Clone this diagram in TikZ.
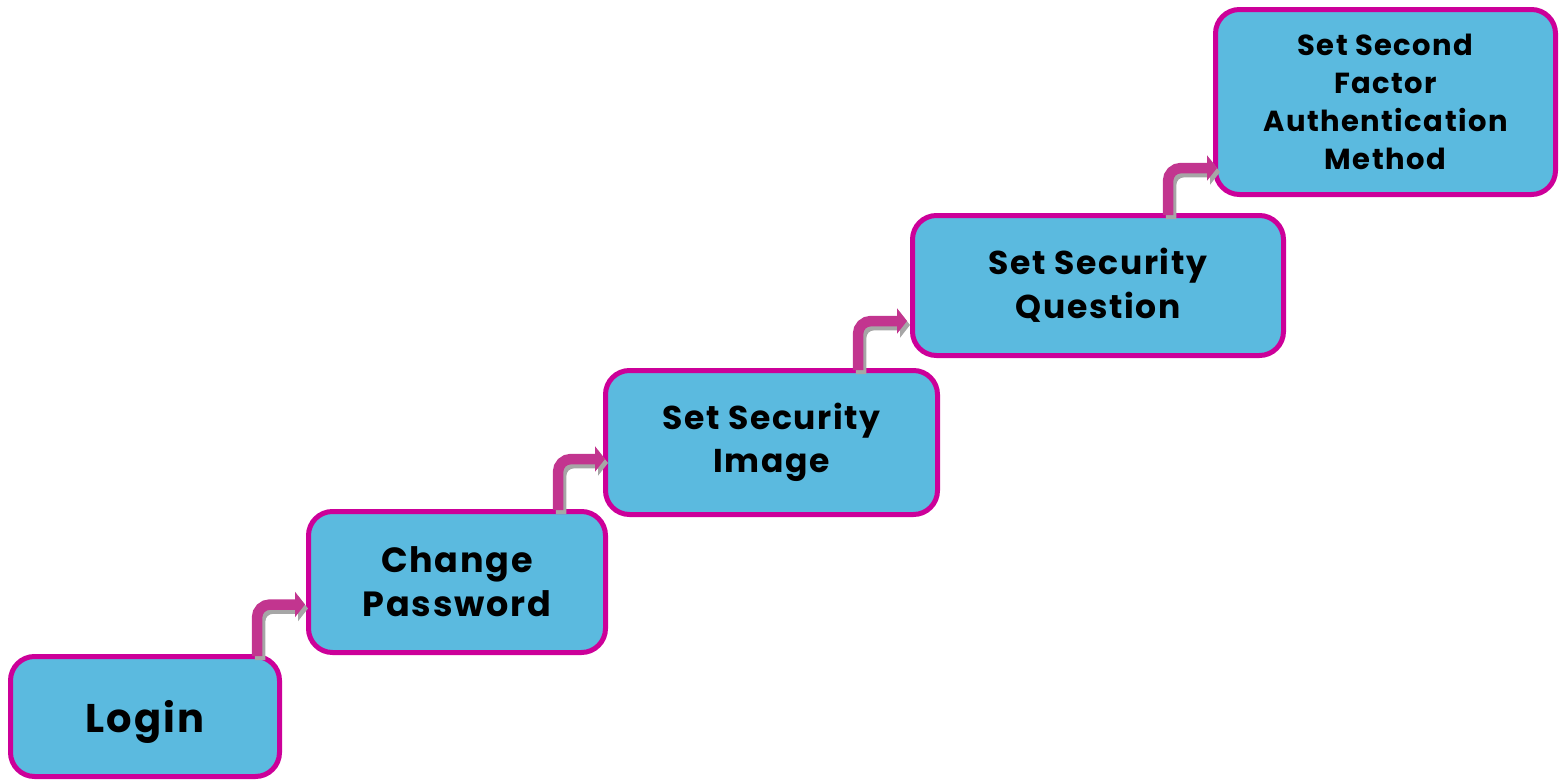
\documentclass[tikz,border=0pt]{standalone}
\usepackage{fontspec}
\setmainfont{Poppins}[LetterSpace=5]
\usetikzlibrary{arrows.meta}
\definecolor{boxfill}{HTML}{5BBADF}
\definecolor{boxline}{HTML}{CC0099}
\definecolor{arrowcol}{HTML}{C2358F}
\definecolor{shadowcol}{HTML}{A6A6A6}
\tikzset{
  stepbox/.style={draw=boxline, fill=boxfill, line width=5pt, rounded corners=24pt,
    align=center, font=\bfseries, text=black, inner sep=0pt},
  bent/.style={line width=10.5pt, rounded corners=13pt,
    -{Triangle[width=25pt,length=10pt]}},
}
\begin{document}
\begin{tikzpicture}[x=1pt,y=-1pt]
\useasboundingbox (0,0) rectangle (1559,782);
% boxes
\node[stepbox, minimum width=269pt, minimum height=120pt, text depth=-6pt,
  font=\fontsize{40}{46}\selectfont\bfseries] (b1) at (145,716.5) {Login};
\node[stepbox, minimum width=297pt, minimum height=141pt,
  font=\fontsize{35}{44}\selectfont\bfseries] (b2) at (457,582) {Change\\Password};
\node[stepbox, minimum width=332pt, minimum height=144pt,
  font=\fontsize{33}{43}\selectfont\bfseries] (b3) at (771.5,442.5) {Set Security\\Image};
\node[stepbox, minimum width=371pt, minimum height=140pt,
  font=\fontsize{33}{44}\selectfont\bfseries] (b4) at (1098,285.5) {Set Security\\Question};
\node[stepbox, minimum width=340pt, minimum height=185pt,
  font=\fontsize{29}{38}\selectfont\bfseries] (b5) at (1385.5,102) {Set Second\\Factor\\Authentication\\Method};
% arrow anchors
\coordinate (s1) at (257,656);  \coordinate (t1) at (305,604.5);
\coordinate (s2) at (558,510);  \coordinate (t2) at (605,459);
\coordinate (s3) at (858,370);  \coordinate (t3) at (907,321);
\coordinate (s4) at (1168,215); \coordinate (t4) at (1217,168);
% shadows
\begin{scope}[transform canvas={shift={(3pt,-4pt)}}]
  \foreach \i in {1,...,4} {\draw[bent, shadowcol] (s\i) |- (t\i);}
\end{scope}
% arrows
\foreach \i in {1,...,4} {\draw[bent, arrowcol] (s\i) |- (t\i);}
\end{tikzpicture}
\end{document}
